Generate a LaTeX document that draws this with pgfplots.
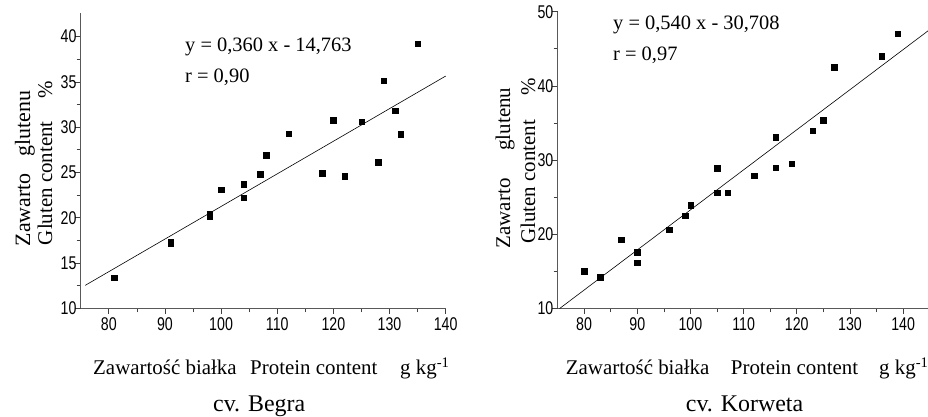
\documentclass[border=0pt]{standalone}
\usepackage{pgfplots}
\pgfplotsset{compat=1.18}
\usepackage{fontspec}
\setmainfont{Liberation Serif}
\setsansfont{Liberation Sans}

\newcommand{\tickfont}{\fontsize{18.5}{18.5}\selectfont\sffamily}
\newcommand{\labfont}{\fontsize{21}{24}\selectfont}
\newcommand{\eqfont}{\fontsize{20.5}{22}\selectfont}

\pgfplotsset{
  regr/.style={
    scale only axis,
    axis x line*=bottom,
    axis y line*=left,
    axis line style={draw=black!65, line width=0.8pt},
    tick style={draw=black!75, line width=0.6pt},
    tick align=outside,
    major tick length=5.5bp,
    minor tick length=4bp,
    minor x tick num=1,
    minor y tick num=1,
    xtick={80,90,...,140},
    xmin=75,
    /pgf/number format/assume math mode=true,
    ticklabel style={font=\tickfont},
    xticklabel={\scalebox{0.77}[1]{\pgfmathprintnumber{\tick}}},
    yticklabel={\scalebox{0.77}[1]{\pgfmathprintnumber{\tick}}},
    yticklabel style={inner sep=0pt, xshift=1.5bp},
    clip=false,
  },
  pts/.style={only marks, mark=square*, mark size=2.7bp, black, mark options={solid, fill=black}},
  fit/.style={black, line width=0.6pt, mark=none},
}

\begin{document}
\begin{tikzpicture}
\useasboundingbox (0bp,0bp) rectangle (928bp,417bp);

% cv. Begra
\begin{axis}[regr,
    at={(80.7bp,108.7bp)}, anchor=south west,
    width=365bp, height=295.3bp,
    xmax=140, ymin=10, ymax=42.6,
    ytick={10,15,...,40},
]
\addplot[fit] coordinates {(75.8,12.53) (140,35.64)};
\addplot[pts] coordinates {
(81,13.4) (91,17.3) (91,17.1) (98,20.4) (98,20.1) (100,23.1)
(104,23.7) (104,22.2) (107,24.8) (108,26.9) (112,29.3) (118,24.9)
(120,30.75) (122,24.6) (125,30.6) (128,26.15) (129,35.1) (131,31.8)
(132,29.2) (135,39.2)
};
\end{axis}

% cv. Korweta
\begin{axis}[regr,
    at={(557.5bp,108.5bp)}, anchor=south west,
    width=372.2bp, height=296.8bp,
    xmax=145, ymin=10, ymax=50,
    ytick={10,20,...,50},
]
\addplot[fit] coordinates {(75.4,10) (145,47.59)};
\addplot[pts] coordinates {
(80,15.0) (83,14.2) (87,19.3) (90,17.6) (90,16.2) (96,20.6)
(99,22.5) (100,23.9) (105,28.9) (105,25.6) (107,25.6) (112,27.9)
(116,33.1) (116,29.0) (119,29.5) (123,34.0) (125,35.4) (127,42.5)
(136,44.0) (139,47.0)
};
\end{axis}

% equations
\node[anchor=base west, inner sep=0pt, font=\eqfont] at (185bp,365bp) {y = 0,360 x - 14,763};
\node[anchor=base west, inner sep=0pt, font=\eqfont] at (185bp,334bp) {r = 0,90};
\node[anchor=base west, inner sep=0pt, font=\eqfont] at (613bp,387.7bp) {y = 0,540 x - 30,708};
\node[anchor=base west, inner sep=0pt, font=\eqfont] at (613bp,356.3bp) {r = 0,97};

% y labels
\node[rotate=90, anchor=base, inner sep=0pt, font=\fontsize{22}{24}\selectfont] at (30bp,248.5bp) {Zawarto\hspace{17bp}glutenu};
\node[rotate=90, anchor=base, inner sep=0pt, font=\labfont] at (52bp,254bp) {Gluten content\hspace{23bp}\%};
\node[rotate=90, anchor=base, inner sep=0pt, font=\labfont] at (510bp,249bp) {Zawarto\hspace{28bp}glutenu};
\node[rotate=90, anchor=base, inner sep=0pt, font=\labfont] at (535bp,256bp) {Gluten content\hspace{24bp}\%};

% x labels
\node[anchor=base west, inner sep=0pt, font=\labfont] at (93bp,42bp) {Zawartość białka};
\node[anchor=base west, inner sep=0pt, font=\labfont] at (250bp,42bp) {Protein content};
\node[anchor=base west, inner sep=0pt, font=\labfont] at (400bp,42bp) {g kg\textsuperscript{-1}};
\node[anchor=base west, inner sep=0pt, font=\labfont] at (565.7bp,42bp) {Zawartość białka};
\node[anchor=base west, inner sep=0pt, font=\labfont] at (730.7bp,42bp) {Protein content};
\node[anchor=base west, inner sep=0pt, font=\labfont] at (879bp,42bp) {g kg\textsuperscript{-1}};

% cultivar captions
\node[anchor=base west, inner sep=0pt, font=\fontsize{24}{26}\selectfont] at (213bp,6bp) {cv. Begra};
\node[anchor=base west, inner sep=0pt, font=\fontsize{24}{26}\selectfont] at (685.7bp,5.3bp) {cv. Korweta};
\end{tikzpicture}
\end{document}
